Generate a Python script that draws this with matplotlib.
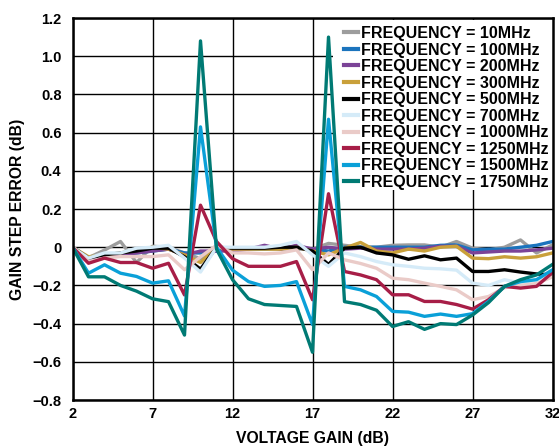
import numpy as np
import matplotlib.pyplot as plt
from matplotlib.patches import Rectangle
from matplotlib.ticker import FixedLocator, FuncFormatter

plt.rcParams['font.family'] = ['Liberation Sans', 'DejaVu Sans']
plt.rcParams['font.weight'] = 'bold'

# voltage gain steps (dB)
gain = list(range(2, 33))

freq_labels = ['FREQUENCY = 10MHz', 'FREQUENCY = 100MHz', 'FREQUENCY = 200MHz',
               'FREQUENCY = 300MHz', 'FREQUENCY = 500MHz', 'FREQUENCY = 700MHz',
               'FREQUENCY = 1000MHz', 'FREQUENCY = 1250MHz', 'FREQUENCY = 1500MHz',
               'FREQUENCY = 1750MHz']
colors = ['#9d9d9d', '#1b74bd', '#7b4397', '#c9a03a', '#000000',
          '#d5ebf8', '#eacbc8', '#a71e47', '#0aa0d8', '#007a74']

# gain step error (dB), one list per frequency, x = 2..32
err_10 = [0, -0.055, -0.015, 0.03, -0.08, 0.005, 0.0, -0.03, -0.06, -0.01, -0.01,
          -0.01, -0.01, -0.01, -0.01, -0.01, 0.02, 0.01, 0.0, 0.0, 0.01, 0.012,
          0.012, 0.0, 0.03, -0.005, -0.014, 0.0, 0.038, -0.03, 0.012]
err_100 = [0, -0.06, -0.04, -0.04, -0.03, -0.02, -0.01, -0.03, -0.03, -0.02, -0.01,
           -0.01, -0.01, 0.0, 0.0, -0.01, -0.02, 0.0, 0.0, 0.0, 0.0, 0.0,
           0.0, 0.01, 0.012, -0.014, -0.01, -0.01, 0.0, 0.01, 0.03]
err_200 = [0, -0.07, -0.05, -0.04, -0.03, -0.02, -0.01, -0.04, -0.02, -0.02, -0.02,
           -0.01, 0.01, -0.01, 0.01, -0.01, 0.0, -0.01, -0.005, -0.01, -0.01, -0.01,
           -0.005, 0.005, 0.005, -0.03, -0.025, -0.02, -0.02, -0.014, -0.005]
err_300 = [0, -0.05, -0.04, -0.03, -0.014, 0.0, -0.01, -0.04, -0.08, 0.0, -0.01,
           -0.01, -0.01, -0.01, 0.0, -0.02, -0.04, -0.005, 0.025, -0.02, -0.03, -0.01,
           -0.02, 0.0, 0.005, -0.057, -0.06, -0.05, -0.057, -0.05, -0.03]
err_500 = [0, -0.057, -0.04, -0.03, -0.02, -0.005, -0.005, -0.05, -0.115, 0.0, -0.005,
           -0.005, -0.005, 0.0, 0.0, -0.02, -0.09, -0.005, 0.0, -0.03, -0.04, -0.063,
           -0.045, -0.066, -0.057, -0.127, -0.127, -0.118, -0.13, -0.14, -0.145]
err_700 = [0, -0.057, -0.03, -0.03, -0.005, 0.0, 0.01, -0.057, -0.13, 0.0, 0.0,
           0.0, 0.0, 0.01, 0.03, -0.04, -0.1, -0.03, -0.049, -0.075, -0.092, -0.1,
           -0.11, -0.113, -0.12, -0.188, -0.2, -0.17, -0.188, -0.17, -0.136]
err_1000 = [0, -0.075, -0.057, -0.049, -0.049, -0.049, -0.04, -0.118, -0.05, 0.01, -0.03,
            -0.03, -0.035, -0.03, -0.014, -0.118, -0.03, -0.066, -0.085, -0.11, -0.162, -0.17,
            -0.188, -0.205, -0.223, -0.275, -0.258, -0.212, -0.2, -0.19, -0.155]
err_1250 = [0, -0.084, -0.057, -0.08, -0.08, -0.11, -0.084, -0.25, 0.22, 0.03, -0.06,
            -0.10, -0.10, -0.10, -0.075, -0.275, 0.28, -0.127, -0.145, -0.17, -0.249, -0.249,
            -0.284, -0.284, -0.30, -0.324, -0.275, -0.205, -0.214, -0.205, -0.132]
err_1500 = [0, -0.136, -0.092, -0.136, -0.153, -0.188, -0.176, -0.36, 0.63, 0.0, -0.12,
            -0.18, -0.205, -0.2, -0.18, -0.405, 0.67, -0.205, -0.223, -0.258, -0.336, -0.34,
            -0.362, -0.35, -0.362, -0.348, -0.284, -0.205, -0.18, -0.17, -0.118]
err_1750 = [0, -0.155, -0.155, -0.2, -0.23, -0.27, -0.285, -0.46, 1.08, -0.01, -0.17,
            -0.27, -0.3, -0.305, -0.31, -0.55, 1.1, -0.285, -0.30, -0.33, -0.415, -0.39,
            -0.43, -0.40, -0.405, -0.355, -0.29, -0.205, -0.17, -0.145, -0.09]

series = [err_10, err_100, err_200, err_300, err_500, err_700,
          err_1000, err_1250, err_1500, err_1750]

fig = plt.figure(figsize=(5.59, 4.47), dpi=100)
ax = fig.add_axes([0.1297, 0.1051, 0.8587, 0.8546])

# white panel behind the legend hides the grid there
ax.add_patch(Rectangle((0.543, 0.55), 0.457, 0.445, transform=ax.transAxes,
                       facecolor='white', edgecolor='none', zorder=1.5))

for vals, lab, c in zip(series, freq_labels, colors):
    ax.plot(gain, vals, color=c, linewidth=2.4, label=lab, zorder=2)

ax.set_xlim(2, 32)
ax.set_ylim(-0.8, 1.2)
ax.xaxis.set_major_locator(FixedLocator([2, 7, 12, 17, 22, 27, 32]))
ax.yaxis.set_major_locator(FixedLocator(np.arange(-0.8, 1.21, 0.2)))
ax.yaxis.set_major_formatter(FuncFormatter(
    lambda v, p: '0' if abs(v) < 1e-9 else f'{v:.1f}'.replace('-', '\u2212')))
ax.grid(True, color='black', linewidth=1.0)
ax.set_axisbelow(True)
ax.tick_params(length=0, labelsize=10.5)
ax.tick_params(axis='x', pad=5)
ax.tick_params(axis='y', pad=8)
for s in ax.spines.values():
    s.set_linewidth(1.8)
    s.set_color('black')
    s.set_zorder(3)

ax.set_xlabel('VOLTAGE GAIN (dB)', fontsize=11.3, fontweight='bold', labelpad=7.5)
ax.set_ylabel('GAIN STEP ERROR (dB)', fontsize=11.3, fontweight='bold', labelpad=5)

leg = ax.legend(loc='upper left', bbox_to_anchor=(0.5656, 0.979), frameon=False,
                fontsize=11.5, handlelength=0.875, handletextpad=0.19,
                labelspacing=0.095, borderaxespad=0, borderpad=0)
leg.set_zorder(4)
for line in leg.get_lines():
    line.set_linewidth(3)

fig.savefig('out.png', dpi=100, facecolor='white')
